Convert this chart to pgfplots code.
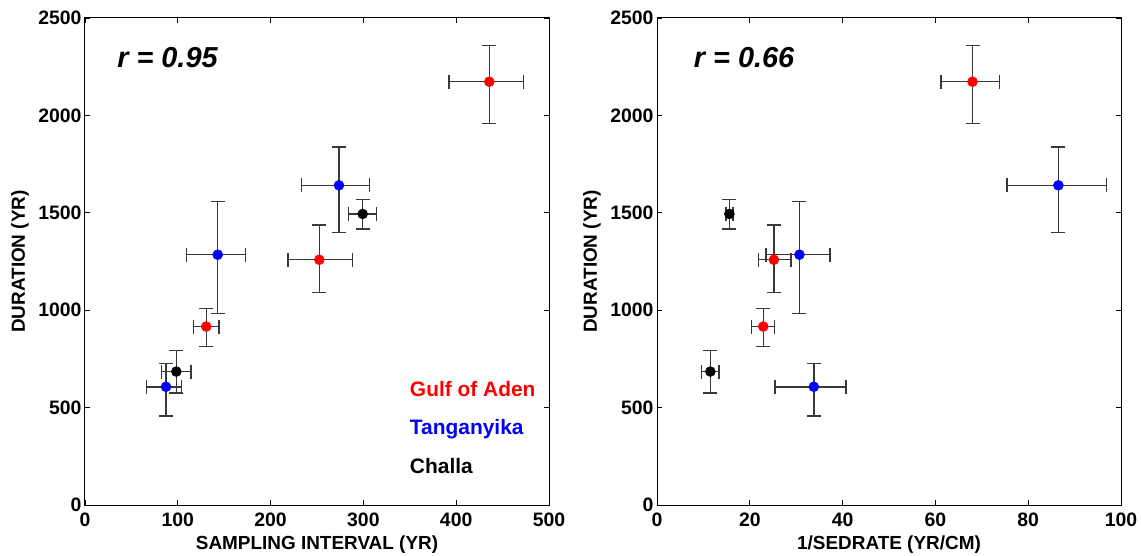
\documentclass[border=0pt]{standalone}
\usepackage{fontspec}
\setmainfont{Liberation Sans}
\usepackage{pgfplots}
\pgfplotsset{compat=1.18}

\pgfplotsset{
  panel/.style={
    scale only axis, width=464bp, height=487bp,
    ymin=0, ymax=2500, ytick={0,500,...,2500},
    tick align=inside, major tick length=5bp,
    tick style={black, line width=0.8bp},
    axis line style={black, line width=1bp},
    ticklabel style={font=\fontsize{19.5}{21}\selectfont\bfseries},
    xticklabel style={yshift=-4bp},
    label style={font=\fontsize{19}{21}\selectfont\bfseries},
    /pgf/number format/assume math mode=true,
    /pgf/number format/1000 sep={},
    ylabel={DURATION (YR)},
    ylabel style={at={(axis description cs:-0.14,0.5)}, anchor=center},
    xlabel style={at={(axis description cs:0.5,0)}, anchor=center, yshift=-40bp},
  },
  pts/.style={
    only marks, mark=*, mark size=5bp, color=#1, line width=1.5bp,
    mark options={draw=#1, fill=#1, line width=0.5bp},
    error bars/.cd,
      x dir=both, x explicit, y dir=both, y explicit,
      error mark=|,
      error bar style={line width=1.5bp, black!78, solid},
      error mark options={line width=1.5bp, black!78, mark size=7bp},
  },
}

\begin{document}
\begin{tikzpicture}
\begin{axis}[panel, xmin=0, xmax=500, xtick={0,100,...,500},
  xlabel={SAMPLING INTERVAL (YR)}]
\addplot[pts=red] table[x=x, y=y, x error minus=xm, x error plus=xp, y error minus=ym, y error plus=yp, row sep=\\] {
x y xm xp ym yp \\
435.7 2173 43.7 37.0 214 185 \\
252.5 1259 33.7 35.9 169 178 \\
130.7 916 13.6 13.7 102 92 \\
};
\addplot[pts=blue] table[x=x, y=y, x error minus=xm, x error plus=xp, y error minus=ym, y error plus=yp, row sep=\\] {
x y xm xp ym yp \\
273.7 1641 40.2 33.1 242 198 \\
143.0 1285 33.5 30.0 302 272 \\
87.3 607 21.2 16.9 149 120 \\
};
\addplot[pts=black] table[x=x, y=y, x error minus=xm, x error plus=xp, y error minus=ym, y error plus=yp, row sep=\\] {
x y xm xp ym yp \\
299.2 1494 15.1 15.1 77 74 \\
98.4 685 15.8 15.8 111 109 \\
};
\node[anchor=base west, font=\fontsize{29}{32}\selectfont\bfseries\itshape] at (axis cs:31,2244) {r = 0.95};
\node[anchor=base west, text=red, font=\fontsize{21}{23}\selectfont\bfseries, inner sep=0] at (axis cs:350,559) {Gulf of Aden};
\node[anchor=base west, text=blue, font=\fontsize{21}{23}\selectfont\bfseries, inner sep=0] at (axis cs:350,360) {Tanganyika};
\node[anchor=base west, text=black, font=\fontsize{21}{23}\selectfont\bfseries, inner sep=0] at (axis cs:350,160) {Challa};
\end{axis}

\begin{axis}[panel, xshift=572bp, xmin=0, xmax=100, xtick={0,20,...,100},
  xlabel={1/SEDRATE (YR/CM)}]
\addplot[pts=red] table[x=x, y=y, x error minus=xm, x error plus=xp, y error minus=ym, y error plus=yp, row sep=\\] {
x y xm xp ym yp \\
68.0 2173 6.75 5.82 214 185 \\
25.2 1259 3.30 3.67 169 178 \\
22.9 916 2.51 2.45 102 92 \\
};
\addplot[pts=blue] table[x=x, y=y, x error minus=xm, x error plus=xp, y error minus=ym, y error plus=yp, row sep=\\] {
x y xm xp ym yp \\
86.5 1641 11.06 10.35 242 198 \\
30.7 1285 7.18 6.54 302 272 \\
33.8 607 8.33 6.90 149 120 \\
};
\addplot[pts=black] table[x=x, y=y, x error minus=xm, x error plus=xp, y error minus=ym, y error plus=yp, row sep=\\] {
x y xm xp ym yp \\
15.6 1494 0.72 0.79 77 74 \\
11.5 685 1.87 1.87 111 109 \\
};
\node[anchor=base west, font=\fontsize{29}{32}\selectfont\bfseries\itshape] at (axis cs:7.2,2244) {r = 0.66};
\end{axis}
\pgfresetboundingbox
\path[use as bounding box] (-85bp,-51bp) rectangle (1056bp,505bp);
\end{tikzpicture}
\end{document}
